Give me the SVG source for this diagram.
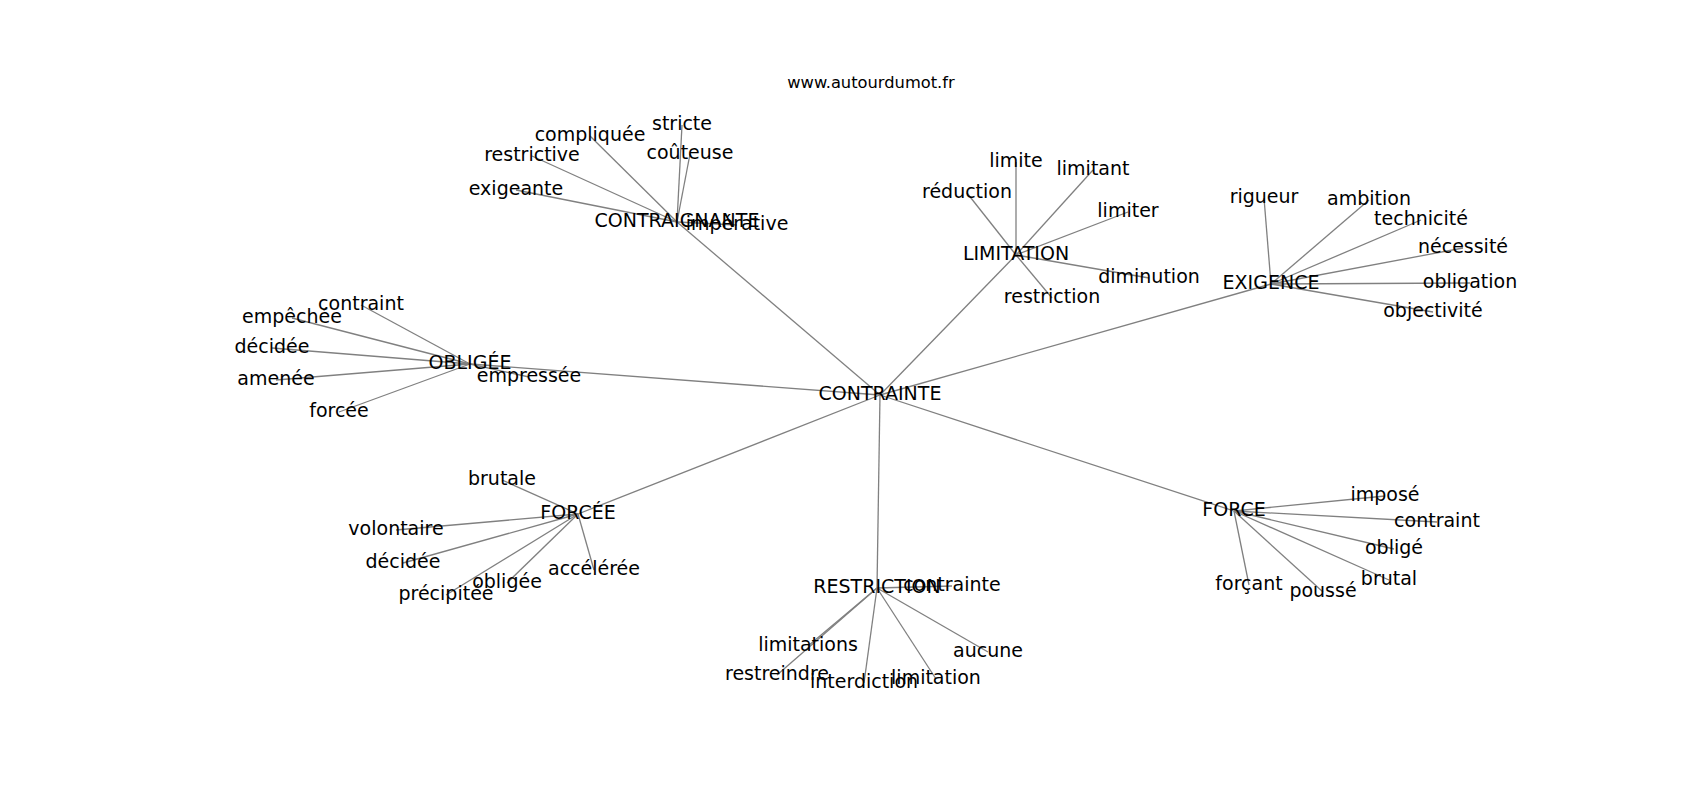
<svg xmlns="http://www.w3.org/2000/svg" width="1700" height="800" viewBox="0 0 1700 800">
<style>
.e{stroke:#808080;stroke-width:1.3;fill:none}
.t{font-family:"DejaVu Sans","Liberation Sans",sans-serif;font-size:19px;fill:#000;text-anchor:middle}
.title{font-family:"DejaVu Sans","Liberation Sans",sans-serif;font-size:16.3px;fill:#000;text-anchor:middle}
</style>
<rect width="1700" height="800" fill="#fff"/>
<text class="title" x="871" y="88">www.autourdumot.fr</text>
<g id="connectors" class="e">
<line x1="880" y1="395" x2="677" y2="222"/>
<line x1="880" y1="395" x2="1016" y2="255"/>
<line x1="880" y1="395" x2="1271" y2="284"/>
<line x1="880" y1="395" x2="470" y2="364"/>
<line x1="880" y1="395" x2="578" y2="514"/>
<line x1="880" y1="395" x2="877" y2="588"/>
<line x1="880" y1="395" x2="1234" y2="511"/>
<line x1="677" y1="222" x2="682" y2="125"/>
<line x1="677" y1="222" x2="690" y2="154"/>
<line x1="677" y1="222" x2="590" y2="136"/>
<line x1="677" y1="222" x2="532" y2="156"/>
<line x1="677" y1="222" x2="516" y2="190"/>
<line x1="677" y1="222" x2="737" y2="225"/>
<line x1="1016" y1="255" x2="1016" y2="162"/>
<line x1="1016" y1="255" x2="1093" y2="170"/>
<line x1="1016" y1="255" x2="967" y2="193"/>
<line x1="1016" y1="255" x2="1128" y2="212"/>
<line x1="1016" y1="255" x2="1149" y2="278"/>
<line x1="1016" y1="255" x2="1052" y2="298"/>
<line x1="1271" y1="284" x2="1264" y2="198"/>
<line x1="1271" y1="284" x2="1369" y2="200"/>
<line x1="1271" y1="284" x2="1421" y2="220"/>
<line x1="1271" y1="284" x2="1463" y2="248"/>
<line x1="1271" y1="284" x2="1470" y2="283"/>
<line x1="1271" y1="284" x2="1433" y2="312"/>
<line x1="470" y1="364" x2="361" y2="305"/>
<line x1="470" y1="364" x2="292" y2="318"/>
<line x1="470" y1="364" x2="272" y2="348"/>
<line x1="470" y1="364" x2="276" y2="380"/>
<line x1="470" y1="364" x2="339" y2="412"/>
<line x1="470" y1="364" x2="529" y2="377"/>
<line x1="578" y1="514" x2="502" y2="480"/>
<line x1="578" y1="514" x2="396" y2="530"/>
<line x1="578" y1="514" x2="403" y2="563"/>
<line x1="578" y1="514" x2="446" y2="595"/>
<line x1="578" y1="514" x2="507" y2="583"/>
<line x1="578" y1="514" x2="594" y2="570"/>
<line x1="877" y1="588" x2="952" y2="586"/>
<line x1="877" y1="588" x2="808" y2="646"/>
<line x1="877" y1="588" x2="777" y2="675"/>
<line x1="877" y1="588" x2="864" y2="683"/>
<line x1="877" y1="588" x2="936" y2="679"/>
<line x1="877" y1="588" x2="988" y2="652"/>
<line x1="1234" y1="511" x2="1385" y2="496"/>
<line x1="1234" y1="511" x2="1437" y2="522"/>
<line x1="1234" y1="511" x2="1394" y2="549"/>
<line x1="1234" y1="511" x2="1389" y2="580"/>
<line x1="1234" y1="511" x2="1249" y2="585"/>
<line x1="1234" y1="511" x2="1323" y2="592"/>
</g>
<g id="n-contrainte"><text class="t" x="880" y="400">CONTRAINTE</text></g>
<g id="n-contraignante"><text class="t" x="677" y="227">CONTRAIGNANTE</text></g>
<g id="n-stricte"><text class="t" x="682" y="130">stricte</text></g>
<g id="n-couteuse"><text class="t" x="690" y="159">coûteuse</text></g>
<g id="n-compliquee"><text class="t" x="590" y="141">compliquée</text></g>
<g id="n-restrictive"><text class="t" x="532" y="161">restrictive</text></g>
<g id="n-exigeante"><text class="t" x="516" y="195">exigeante</text></g>
<g id="n-imperative"><text class="t" x="737" y="230">impérative</text></g>
<g id="n-limitation"><text class="t" x="1016" y="260">LIMITATION</text></g>
<g id="n-limite"><text class="t" x="1016" y="167">limite</text></g>
<g id="n-limitant"><text class="t" x="1093" y="175">limitant</text></g>
<g id="n-reduction"><text class="t" x="967" y="198">réduction</text></g>
<g id="n-limiter"><text class="t" x="1128" y="217">limiter</text></g>
<g id="n-diminution"><text class="t" x="1149" y="283">diminution</text></g>
<g id="n-restriction-l"><text class="t" x="1052" y="303">restriction</text></g>
<g id="n-exigence"><text class="t" x="1271" y="289">EXIGENCE</text></g>
<g id="n-rigueur"><text class="t" x="1264" y="203">rigueur</text></g>
<g id="n-ambition"><text class="t" x="1369" y="205">ambition</text></g>
<g id="n-technicite"><text class="t" x="1421" y="225">technicité</text></g>
<g id="n-necessite"><text class="t" x="1463" y="253">nécessité</text></g>
<g id="n-obligation"><text class="t" x="1470" y="288">obligation</text></g>
<g id="n-objectivite"><text class="t" x="1433" y="317">objectivité</text></g>
<g id="n-obligee"><text class="t" x="470" y="369">OBLIGÉE</text></g>
<g id="n-contraint-o"><text class="t" x="361" y="310">contraint</text></g>
<g id="n-empechee"><text class="t" x="292" y="323">empêchée</text></g>
<g id="n-decidee-o"><text class="t" x="272" y="353">décidée</text></g>
<g id="n-amenee"><text class="t" x="276" y="385">amenée</text></g>
<g id="n-forcee-o"><text class="t" x="339" y="417">forcée</text></g>
<g id="n-empressee"><text class="t" x="529" y="382">empressée</text></g>
<g id="n-forcee"><text class="t" x="578" y="519">FORCÉE</text></g>
<g id="n-brutale"><text class="t" x="502" y="485">brutale</text></g>
<g id="n-volontaire"><text class="t" x="396" y="535">volontaire</text></g>
<g id="n-decidee-f"><text class="t" x="403" y="568">décidée</text></g>
<g id="n-precipitee"><text class="t" x="446" y="600">précipitée</text></g>
<g id="n-obligee-f"><text class="t" x="507" y="588">obligée</text></g>
<g id="n-acceleree"><text class="t" x="594" y="575">accélérée</text></g>
<g id="n-restriction"><text class="t" x="877" y="593">RESTRICTION</text></g>
<g id="n-contrainte-r"><text class="t" x="952" y="591">contrainte</text></g>
<g id="n-limitations"><text class="t" x="808" y="651">limitations</text></g>
<g id="n-restreindre"><text class="t" x="777" y="680">restreindre</text></g>
<g id="n-interdiction"><text class="t" x="864" y="688">interdiction</text></g>
<g id="n-limitation-r"><text class="t" x="936" y="684">limitation</text></g>
<g id="n-aucune"><text class="t" x="988" y="657">aucune</text></g>
<g id="n-force"><text class="t" x="1234" y="516">FORCE</text></g>
<g id="n-impose"><text class="t" x="1385" y="501">imposé</text></g>
<g id="n-contraint-f"><text class="t" x="1437" y="527">contraint</text></g>
<g id="n-oblige"><text class="t" x="1394" y="554">obligé</text></g>
<g id="n-brutal"><text class="t" x="1389" y="585">brutal</text></g>
<g id="n-forcant"><text class="t" x="1249" y="590">forçant</text></g>
<g id="n-pousse"><text class="t" x="1323" y="597">poussé</text></g>
</svg>
